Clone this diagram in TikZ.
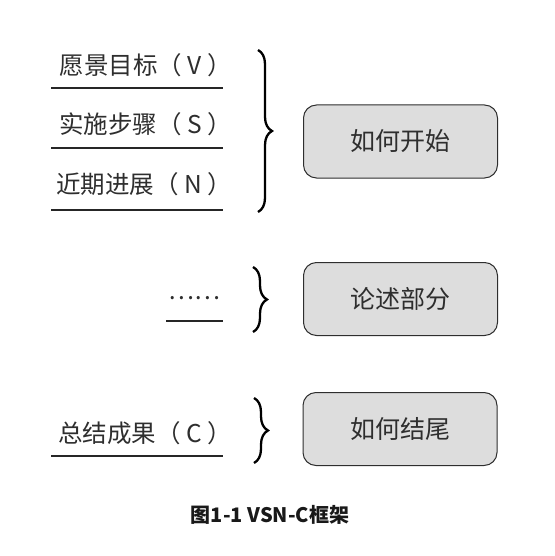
\documentclass[tikz,border=0pt]{standalone}
\usepackage{fontspec}
\setmainfont{Noto Sans CJK SC}
\usetikzlibrary{decorations.pathreplacing,positioning}
\definecolor{inkGray}{HTML}{2E2E2E}
\definecolor{boxGray}{HTML}{DDDDDD}
\tikzset{
  item/.style={anchor=east, inner sep=0pt, font=\fontsize{24.5}{28}\selectfont, text=inkGray},
  underline/.style={line width=1.4pt, draw=black!85},
  part/.style={draw=inkGray, fill=boxGray, rounded corners=13pt, line width=1pt,
    minimum width=194pt, minimum height=73pt, font=\fontsize{25}{28}\selectfont, text=inkGray},
  curly/.style={decorate, decoration={brace, amplitude=14pt}, line width=2.3pt},
  caption/.style={font=\fontsize{20}{24}\selectfont\bfseries, text=black!90}
}
\begin{document}
\begin{tikzpicture}[x=1pt,y=-1pt]
  \useasboundingbox (0,0) rectangle (554,556);
  % left column
  \node[item] (vision) at (232,65) {愿景目标（ V ）};
  \node[item] (steps) at (232,124) {实施步骤（ S ）};
  \node[item] (near) at (232,184) {近期进展（ N ）};
  \node[item] (more) at (221,298) {……};
  \node[item] (sum) at (232,433) {总结成果（ C ）};
  \foreach \y in {88,148,210,456}{
    \draw[underline] (51,\y) -- (223,\y);
  }
  \draw[underline] (166,321) -- (223,321);
  % braces
  \coordinate (b1top) at (258,50);
  \coordinate (b1bot) at (258,212);
  \coordinate (b2top) at (253,267);
  \coordinate (b2bot) at (253,332);
  \coordinate (b3top) at (254,398);
  \coordinate (b3bot) at (254,463);
  \draw[curly] (b1top) -- (b1bot);
  \draw[curly] (b2top) -- (b2bot);
  \draw[curly] (b3top) -- (b3bot);
  % boxes
  \node[part] (start) at (400.5,141.5) {如何开始};
  \node[part] (body) at (400.5,299) {论述部分};
  \node[part] (ending) at (400,429) {如何结尾};
  \node[caption] (title) at (270,515) {图1-1 VSN-C框架};
\end{tikzpicture}
\end{document}
